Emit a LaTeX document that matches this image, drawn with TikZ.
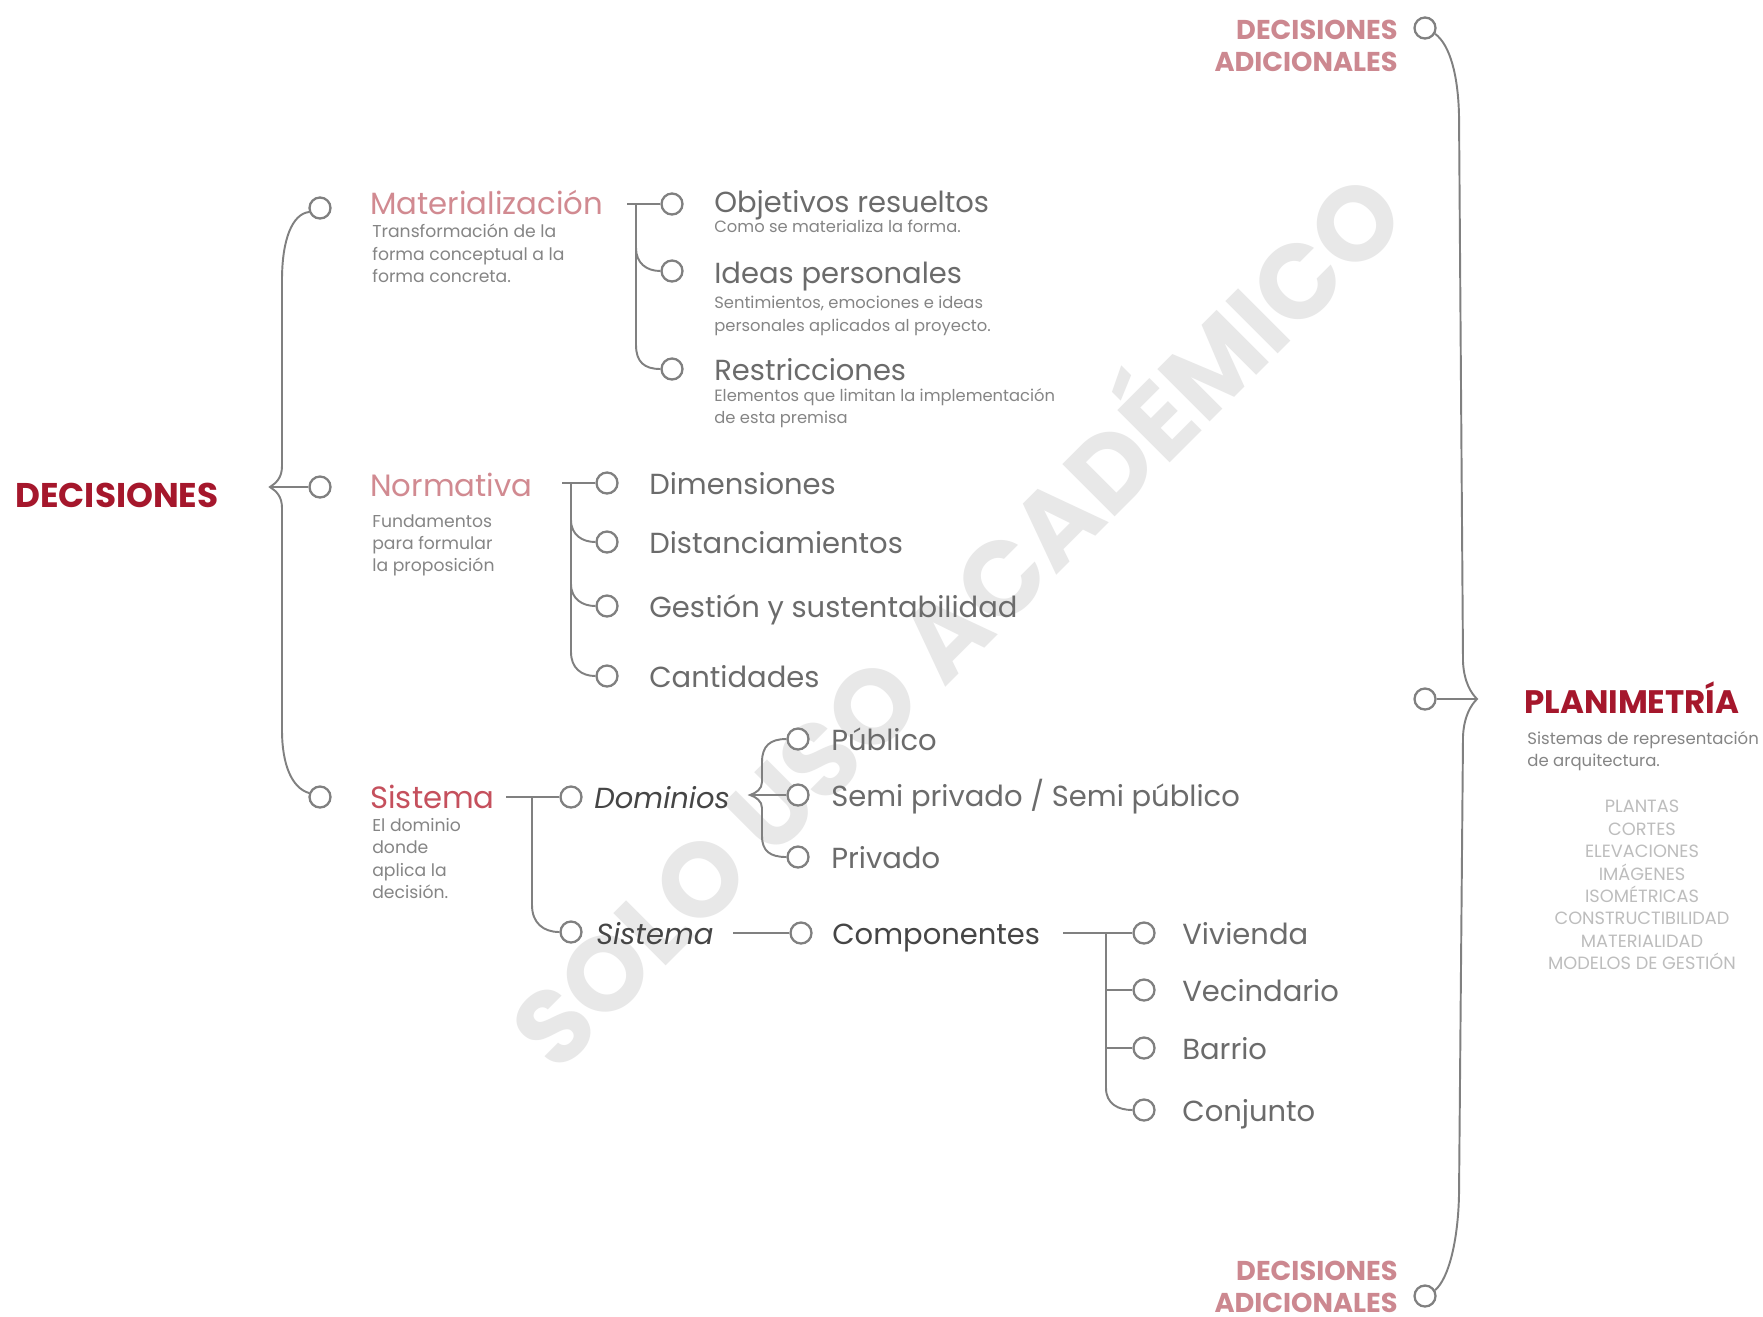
\documentclass[tikz,border=0pt]{standalone}
\usepackage{fontspec}
\setmainfont{Poppins}
\definecolor{lineg}{HTML}{808080}
\definecolor{itemg}{HTML}{6B6B6B}
\definecolor{darkg}{HTML}{454545}
\definecolor{descg}{HTML}{858585}
\definecolor{listg}{HTML}{BDBDBD}
\definecolor{deepred}{HTML}{A5172C}
\definecolor{rose}{HTML}{D18A91}
\definecolor{redt}{HTML}{C5505D}
\definecolor{addred}{HTML}{CC8890}
\definecolor{wm}{HTML}{E8E8E8}
\tikzset{
  ln/.style={draw=lineg, line width=1.1pt},
  dot/.style={circle, draw=lineg, line width=1.3pt, fill=white, minimum size=0.42cm, inner sep=0pt},
  item/.style={anchor=mid west, inner sep=0pt, yshift=-0.13cm, text=itemg, font=\fontsize{16.5}{20}\selectfont},
  sysitem/.style={anchor=mid west, inner sep=0pt, yshift=-0.13cm, text=darkg, font=\fontsize{16.5}{20}\selectfont},
  head/.style={anchor=mid west, inner sep=0pt, yshift=-0.13cm, font=\fontsize{17.5}{21}\selectfont},
  desc/.style={anchor=north west, inner sep=0pt, align=left, text=descg, font=\fontsize{9.8}{12.75}\selectfont},
  bigtitle/.style={anchor=mid west, inner sep=0pt, yshift=-0.2cm, text=deepred, font=\fontsize{19.5}{22}\selectfont\bfseries},
  extra/.style={anchor=east, inner sep=0pt, align=right, text=addred, font=\fontsize{15.5}{18}\selectfont\bfseries},
}
\begin{document}
\begin{tikzpicture}[x=0.02cm, y=-0.02cm]
\fill[white] (0,0) rectangle (1763,1316);
\useasboundingbox (0,0) rectangle (1763,1316);

% watermark
\node[rotate=45, text=wm, inner sep=0pt, font=\fontsize{60}{60}\selectfont\bfseries] (wmark) at (948,612) {SOLO USO ACADÉMICO};

% ---------- root ----------
\node[bigtitle] (root) at (15,493) {DECISIONES};

% left brace
\node[dot] (c1) at (320,208) {};
\node[dot] (c2) at (320,487) {};
\node[dot] (c3) at (320,797) {};
\coordinate (tipL) at (270,487);
\draw[ln] (c1.200) .. controls (292,214) and (282,240) .. (282,280) -- (282,466)
  .. controls (282,478) and (276,483) .. (tipL)
  .. controls (276,491) and (282,496) .. (282,508) -- (282,730)
  .. controls (282,765) and (292,788) .. (c3.160);
\draw[ln] (tipL) -- (c2);

% ---------- Materialización ----------
\node[head, text=rose] (mat) at (370,203) {Materialización};
\node[desc] (matd) at (372,224) {Transformación de la\\forma conceptual a la\\forma concreta.};

\coordinate (mS) at (627,204);
\coordinate (mT) at (636,204);
\coordinate (mB) at (636,248);
\coordinate (mE) at (636,345);
\node[dot] (m1) at (672,204) {};
\node[dot] (m2) at (672,271) {};
\node[dot] (m3) at (672,369) {};
\draw[ln] (mS) -- (m1);
\draw[ln] (mT) -- (mE) .. controls +(0,17) and +(-16,0) .. (m3.west);
\draw[ln] (mB) .. controls +(0,15) and +(-14,0) .. (m2.west);

\node[item] (obj) at (714,201) {Objetivos resueltos};
\node[desc, font=\fontsize{9.3}{12.75}\selectfont] (objd) at (714,220) {Como se materializa la forma.};
\node[item] (ide) at (714,272) {Ideas personales};
\node[desc, font=\fontsize{9.3}{12.75}\selectfont] (ided) at (714,296) {Sentimientos, emociones e ideas\\personales aplicados al proyecto.};
\node[item] (res) at (714,369) {Restricciones};
\node[desc, font=\fontsize{9.3}{12.75}\selectfont] (resd) at (714,388) {Elementos que limitan la implementación\\de esta premisa};

% ---------- Normativa ----------
\node[head, text=rose] (nor) at (370,485) {Normativa};
\node[desc] (nord) at (372,514) {Fundamentos\\para formular\\la proposición};

\coordinate (nS) at (562,483);
\coordinate (nT) at (571,483);
\coordinate (nB2) at (571,520);
\coordinate (nB3) at (571,584);
\coordinate (nE) at (571,652);
\node[dot] (n1) at (607,483) {};
\node[dot] (n2) at (607,542) {};
\node[dot] (n3) at (607,606) {};
\node[dot] (n4) at (607,676) {};
\draw[ln] (nS) -- (n1);
\draw[ln] (nT) -- (nE) .. controls +(0,16) and +(-14,0) .. (n4.west);
\draw[ln] (nB2) .. controls +(0,15) and +(-13,0) .. (n2.west);
\draw[ln] (nB3) .. controls +(0,15) and +(-13,0) .. (n3.west);

\node[item] (dim) at (649,483) {Dimensiones};
\node[item] (dis) at (649,542) {Distanciamientos};
\node[item] (ges) at (649,606) {Gestión y sustentabilidad};
\node[item] (can) at (649,676) {Cantidades};

% ---------- Sistema ----------
\node[head, text=redt] (sis) at (370,797) {Sistema};
\node[desc] (sisd) at (372,818) {El dominio\\donde\\aplica la\\decisión.};

\coordinate (sS) at (506,797);
\coordinate (sT) at (532,797);
\coordinate (sE) at (532,905);
\node[dot] (d0) at (571,797) {};
\node[dot] (s0) at (571,932) {};
\draw[ln] (sS) -- (d0);
\draw[ln] (sT) -- (sE) .. controls +(0,18) and +(-16,0) .. (s0.west);

\node[sysitem, font=\fontsize{16.5}{20}\selectfont\itshape] (dom) at (594,797) {Dominios};

% dominios brace
\coordinate (tipD) at (750,795);
\node[dot] (p1) at (798,739) {};
\node[dot] (p2) at (798,795) {};
\node[dot] (p3) at (798,857) {};
\draw[ln] (p1.west) .. controls (770,739) and (762,746) .. (762,762) -- (762,782)
  .. controls (762,789) and (756,793) .. (tipD)
  .. controls (756,797) and (762,801) .. (762,808) -- (762,836)
  .. controls (762,851) and (770,857) .. (p3.west);
\draw[ln] (tipD) -- (p2);
\node[item] (pub) at (831,739) {Público};
\node[item] (sem) at (831,795) {Semi privado / Semi público};
\node[item] (pri) at (831,857) {Privado};

\node[sysitem, font=\fontsize{16.5}{20}\selectfont\itshape] (sis2) at (596,933) {Sistema};
\coordinate (kS) at (733,933);
\node[dot] (k0) at (801,933) {};
\draw[ln] (kS) -- (k0);
\node[sysitem] (comp) at (832,933) {Componentes};

% componentes
\coordinate (vS) at (1063,933);
\coordinate (vT) at (1106,933);
\coordinate (vB2) at (1106,990);
\coordinate (vB3) at (1106,1048);
\coordinate (vE) at (1106,1088);
\node[dot] (v1) at (1144,933) {};
\node[dot] (v2) at (1144,990) {};
\node[dot] (v3) at (1144,1048) {};
\node[dot] (v4) at (1144,1110) {};
\draw[ln] (vS) -- (v1);
\draw[ln] (vT) -- (vE) .. controls +(0,16) and +(-14,0) .. (v4.west);
\draw[ln] (vB2) -- (v2);
\draw[ln] (vB3) -- (v3);
\node[item] (viv) at (1182,933) {Vivienda};
\node[item] (vec) at (1182,990) {Vecindario};
\node[item] (bar) at (1182,1048) {Barrio};
\node[item] (con) at (1182,1110) {Conjunto};

% ---------- right brace ----------
\node[dot] (r1) at (1425,28) {};
\node[dot] (r2) at (1425,699) {};
\node[dot] (r3) at (1425,1296) {};
\coordinate (tipR) at (1477,699);
\draw[ln] (r1.-30) .. controls (1450,45) and (1458,75) .. (1459,115) -- (1463,662)
  .. controls (1464,682) and (1471,693) .. (tipR)
  .. controls (1471,705) and (1464,716) .. (1463,736) -- (1459,1195)
  .. controls (1458,1240) and (1449,1278) .. (r3.30);
\draw[ln] (r2) -- (tipR);

\node[extra] (addT) at (1398,46) {DECISIONES\\ADICIONALES};
\node[extra] (addB) at (1398,1287) {DECISIONES\\ADICIONALES};

\node[bigtitle, yshift=-0.04cm, font=\fontsize{18.5}{22}\selectfont\bfseries] (plan) at (1524,697) {PLANIMETRÍA};
\node[desc, text=descg, font=\fontsize{9.4}{12.75}\selectfont] (pland) at (1527,731) {Sistemas de representación\\de arquitectura.};
\node[anchor=north, inner sep=0pt, align=center, text=listg, font=\fontsize{10.1}{12.75}\selectfont] (plist) at (1642,800)
  {PLANTAS\\CORTES\\ELEVACIONES\\IMÁGENES\\ISOMÉTRICAS\\CONSTRUCTIBILIDAD\\MATERIALIDAD\\MODELOS DE GESTIÓN};
\end{tikzpicture}
\end{document}
